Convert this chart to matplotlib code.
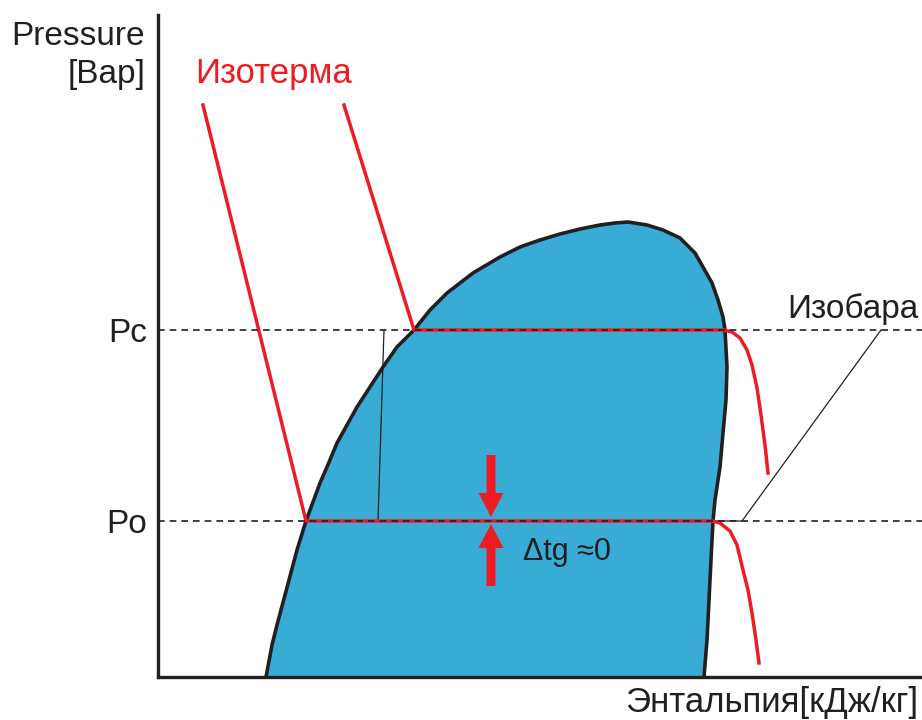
import matplotlib.pyplot as plt
from matplotlib.patches import FancyArrow

plt.rcParams['font.family'] = ['Liberation Sans', 'DejaVu Sans']

# TODO: данные схемы (энтальпия h, давление P в условных единицах)
dome_h = [108, 114, 119, 131, 139, 148, 162, 169, 179, 189, 199, 212, 225, 239,
          256, 272, 289, 302, 315, 342, 362, 382, 402, 422, 442, 457, 470,
          489, 505, 522, 537, 545, 554, 560, 565, 567, 569, 568, 565, 562, 557,
          555, 553, 551, 549, 546]
dome_p = [0, 32, 52, 97, 127, 156, 194, 210, 234, 252, 270, 290, 310, 330,
          347, 367, 384, 394, 404, 420, 430, 437, 443, 448, 452, 454, 455,
          452, 447, 439, 424, 410, 394, 377, 360, 347, 310, 277, 244, 210, 177,
          156, 117, 77, 37, 0]

p_levels = [347, 156]
p_labels = ['Pc', 'Po']

# изотерма при Po
iso_lo_h = [45, 148, 555, 562, 572, 579, 585, 590, 594, 598, 601]
iso_lo_p = [572, 156, 156, 154, 146, 132, 107, 87, 64, 37, 14]
# изотерма при Pc
iso_hi_h = [186, 256, 566, 574, 582, 589, 594, 599, 603, 607, 610]
iso_hi_p = [572, 347, 347, 345, 339, 327, 312, 289, 262, 232, 204]

# изобара (тонкая линия)
bar_h = [226, 220, 584, 723]
bar_p = [347, 156, 156, 347]

# стрелки Δtg
arrow_h = 333
arrow_down = [222, 160]
arrow_up = [91, 153]

ink = '#231f20'
red = '#ed1c24'
blue = '#39acd5'

fig = plt.figure(figsize=(9.22, 7.2), dpi=100)
ax = fig.add_axes([158 / 922, 43 / 720, 764 / 922, 662 / 720])
ax.set_xlim(0, 764)
ax.set_ylim(0, 662)

# купол
ax.fill(dome_h, dome_p, color=blue, zorder=1, lw=0)
ax.plot(dome_h, dome_p, color=ink, lw=2.6, zorder=3, solid_joinstyle='round')

# изобара
ax.plot(bar_h, bar_p, color=ink, lw=0.9, zorder=2)

# изотермы
ax.plot(iso_lo_h, iso_lo_p, color=red, lw=2.5, zorder=4, solid_joinstyle='round')
ax.plot(iso_hi_h, iso_hi_p, color=red, lw=2.5, zorder=4, solid_joinstyle='round')

# пунктир Pc, Po
for p in p_levels:
    ax.axhline(p, color=ink, lw=1.2, ls=(0, (4, 3)), zorder=5)

# стрелки
ax.add_patch(FancyArrow(arrow_h, arrow_down[0], 0, arrow_down[1] - arrow_down[0],
                        width=9, head_width=25, head_length=24,
                        length_includes_head=True, color=red, lw=0, zorder=6))
ax.add_patch(FancyArrow(arrow_h, arrow_up[0], 0, arrow_up[1] - arrow_up[0],
                        width=9, head_width=25, head_length=24,
                        length_includes_head=True, color=red, lw=0, zorder=6))

ax.text(365, 117, 'Δtg ≈0', fontsize=22, color=ink, va='baseline', ha='left', zorder=7)

# оси
for s in ['top', 'right']:
    ax.spines[s].set_visible(False)
for s in ['left', 'bottom']:
    ax.spines[s].set_color(ink)
    ax.spines[s].set_linewidth(2.4)
ax.set_xticks([])
ax.set_yticks(p_levels, p_labels, fontsize=24, color=ink)
ax.tick_params(axis='y', length=0, pad=8)

ax.text(-13, 632, 'Pressure', fontsize=24, color=ink, ha='right', va='baseline', clip_on=False)
ax.text(-13, 594, '[Bap]', fontsize=24, color=ink, ha='right', va='baseline', clip_on=False)
ax.text(37, 594, 'Изотерма', fontsize=25, color=red, ha='left', va='baseline')
ax.text(760, 359, 'Изобара', fontsize=24, color=ink, ha='right', va='baseline', clip_on=False)
ax.text(760, -35, 'Энтальпия[кДж/кг]', fontsize=25, color=ink, ha='right', va='baseline',
        clip_on=False)

fig.savefig('out.png', dpi=100)
